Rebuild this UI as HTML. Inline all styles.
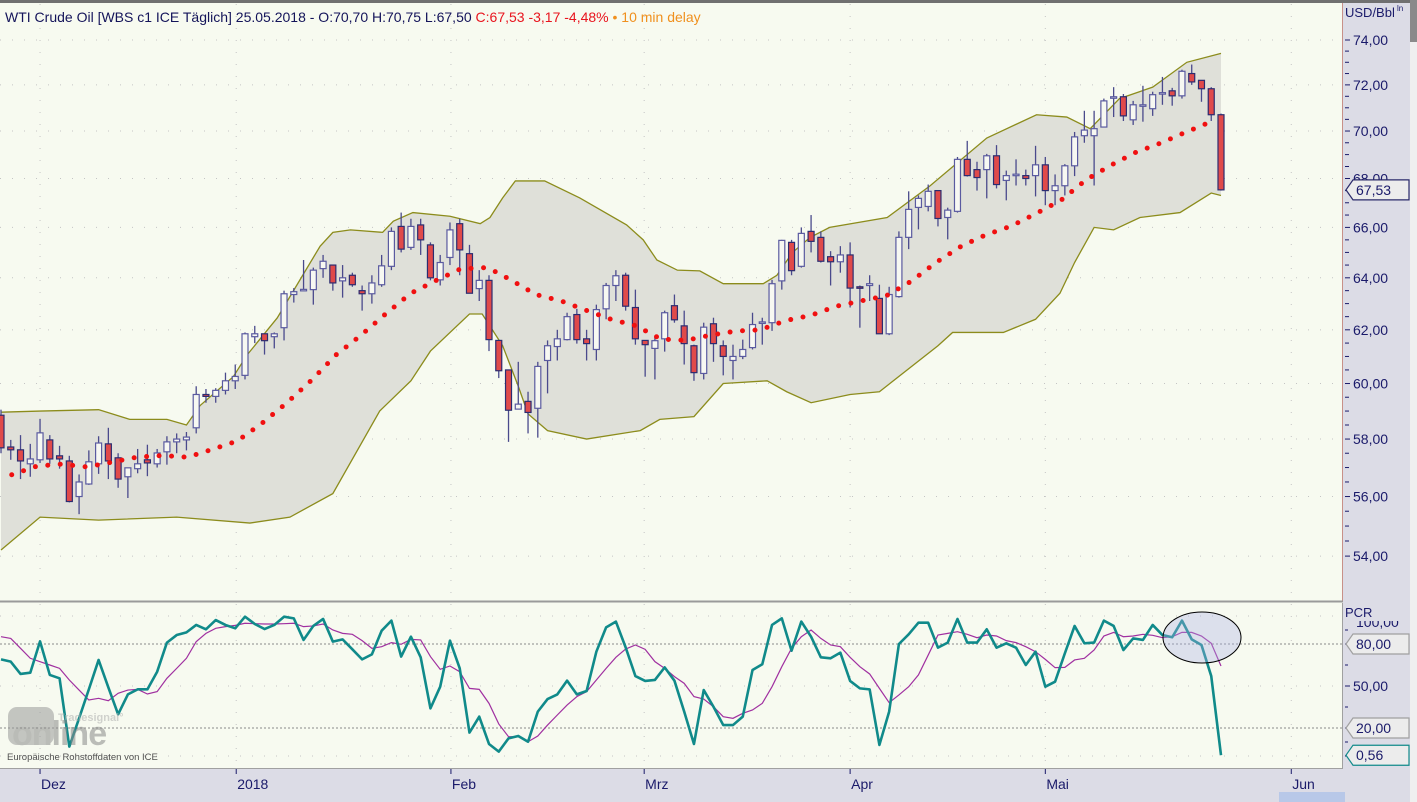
<!DOCTYPE html>
<html><head><meta charset="utf-8"><style>
html,body{margin:0;padding:0;background:#f7faf0;}
svg{display:block;font-family:"Liberation Sans",sans-serif;}
</style></head><body>
<svg id="chart" width="1417" height="802" viewBox="0 0 1417 802" xmlns="http://www.w3.org/2000/svg">
<rect x="0" y="0" width="1417" height="802" fill="#f7faf0"/>
<rect x="1343" y="0" width="67" height="802" fill="#dcdce6"/>
<rect x="0" y="769" width="1343" height="33" fill="#dcdce6"/>
<rect x="1410" y="0" width="7" height="802" fill="#efefef"/>
<rect x="1410" y="0" width="7" height="42" fill="#8a8a8a"/>
<rect x="0" y="0" width="1410" height="3" fill="#707070"/>
<g id="grid"></g>
<g id="bands"></g>
<g id="candles"></g>
<g id="lower"></g>
<g id="axes"></g>
<line x1="1342.5" y1="3" x2="1342.5" y2="601" stroke="#c89088"/>
<line x1="0" y1="601.5" x2="1343" y2="601.5" stroke="#9a9a9a" stroke-width="2"/>
<line x1="1342.5" y1="603" x2="1342.5" y2="768" stroke="#a0a0a0"/>
<line x1="0" y1="768.5" x2="1343" y2="768.5" stroke="#a0a0a0"/>
<text x="5" y="22" font-size="14"><tspan fill="#14145a">WTI Crude Oil [WBS c1 ICE Täglich] 25.05.2018 - O:70,70 H:70,75 L:67,50 </tspan><tspan fill="#e8141e">C:67,53 -3,17 -4,48% </tspan><tspan fill="#f0901e">• 10 min delay</tspan></text>
<g opacity="0.55">
<rect x="8" y="707" width="46" height="38" rx="9" fill="#9a9a9a"/>
<text x="58" y="721" font-size="11" font-weight="bold" fill="#b0b0b0">Tradesignal°</text>
<text x="12" y="745" font-size="34" font-weight="bold" fill="#8a8a8a" letter-spacing="-1">online</text>
</g>
<text x="7" y="760" font-size="9.5" fill="#505050">Europäische Rohstoffdaten von ICE</text>
<ellipse cx="1202" cy="637.5" rx="39" ry="25.5" fill="rgba(170,175,230,0.35)" stroke="#000" stroke-width="1"/>
<rect x="1279" y="792" width="66" height="10" fill="#b8c8e8"/>
</svg>
<script>
// ---- candle data ----
const opens=[58.85,57.72,57.62,57.13,57.27,57.97,57.41,57.23,56.0,56.43,57.13,57.83,57.34,56.68,56.96,57.27,57.13,57.55,57.9,57.97,58.4,59.6,59.53,59.75,60.1,60.3,61.74,61.85,61.74,62.08,63.35,63.5,63.54,64.36,64.5,63.88,64.1,63.5,63.38,63.73,64.45,66.04,65.2,66.1,65.3,63.92,64.8,66.15,64.95,63.58,63.9,61.6,60.5,59.07,59.35,59.1,60.85,61.37,61.63,62.58,61.66,61.26,62.8,63.7,64.1,62.85,61.6,61.3,61.66,62.92,62.15,61.4,60.37,62.23,61.4,60.85,61.0,61.33,62.27,62.27,63.88,65.4,64.45,65.84,65.6,64.83,64.63,64.9,63.65,63.7,63.2,61.85,63.27,65.6,66.81,66.85,67.5,66.4,66.65,68.8,68.37,68.37,68.95,67.92,68.15,68.12,68.12,68.57,67.5,67.7,68.53,69.8,69.8,70.17,71.44,71.48,70.48,71.1,70.96,71.62,71.74,71.52,72.5,72.2,71.83,70.70];
const highs=[59.05,57.97,58.14,57.83,58.72,58.14,57.76,57.41,56.76,57.6,58.1,58.4,57.5,56.99,57.65,57.8,57.65,58.1,58.2,58.25,59.9,59.8,59.83,60.4,60.7,61.9,62.15,61.85,61.9,63.5,63.6,64.7,64.4,64.9,64.5,64.5,64.2,63.7,64.1,64.9,66.0,66.6,66.35,66.35,65.4,64.9,66.2,66.35,65.3,64.3,64.1,61.6,60.5,60.8,59.7,60.8,61.6,62.0,62.65,62.8,62.0,62.96,63.8,64.3,64.2,63.54,61.6,61.74,62.73,63.35,62.73,61.44,62.27,62.46,61.6,61.44,61.63,62.65,62.46,63.92,65.5,65.5,66.0,66.5,65.84,65.05,65.25,65.4,63.7,64.1,63.73,63.65,65.84,67.47,67.3,67.75,67.5,66.8,68.9,69.58,68.7,69.03,69.4,68.33,68.8,68.37,69.37,68.9,68.17,68.6,69.96,70.87,70.87,71.4,71.9,71.6,71.3,71.96,71.7,72.35,71.87,72.67,72.9,72.2,71.9,70.75];
const lows=[57.5,57.27,56.6,56.68,57.16,57.13,56.96,55.8,55.4,56.4,56.78,56.6,56.3,55.95,56.8,56.7,57.0,57.1,57.5,57.6,58.2,59.3,59.3,59.6,59.8,60.15,61.5,61.07,61.3,61.6,63.04,63.5,62.96,64.0,63.5,63.23,63.65,62.73,63.0,63.65,64.3,65.0,65.1,64.9,63.9,63.7,64.5,64.1,63.4,63.1,61.2,60.2,57.9,59.07,58.2,58.05,59.64,60.85,61.6,61.48,60.85,60.85,62.4,63.1,62.73,61.44,60.25,60.15,61.18,62.27,60.7,60.1,60.15,60.8,60.3,60.15,60.9,61.26,61.44,61.96,63.54,64.1,64.4,65.0,64.6,63.7,64.2,62.85,62.08,63.1,61.85,61.8,63.23,65.13,65.92,66.65,66.04,65.52,66.6,68.08,67.5,67.18,67.59,67.1,67.71,67.71,67.26,66.9,66.9,67.3,68.1,69.5,67.71,70.17,70.6,70.43,70.26,70.4,70.65,71.13,71.09,71.4,72.0,71.26,70.43,67.50];
const closes=[57.69,57.62,57.23,57.30,58.22,57.30,57.30,55.83,56.5,57.2,57.86,57.23,56.6,56.99,57.13,57.16,57.51,57.9,58.0,58.07,59.6,59.53,59.75,60.1,60.26,61.85,61.85,61.59,61.85,63.38,63.46,63.55,64.3,64.65,63.8,64.0,63.73,63.38,63.8,64.47,65.84,65.13,66.04,65.5,64.0,64.6,65.9,65.1,63.4,63.9,61.63,60.47,59.03,59.25,58.95,60.63,61.4,61.66,62.5,61.63,61.48,62.77,63.7,64.08,62.9,61.66,61.44,61.59,62.65,62.38,61.48,60.4,62.1,61.48,61.0,61.0,61.26,62.2,62.3,63.77,65.48,64.28,65.76,65.44,64.65,64.63,64.9,63.6,63.6,63.77,61.85,63.35,65.6,66.73,67.18,67.47,66.36,66.7,68.8,68.12,68.04,68.95,67.75,68.12,68.18,68.0,68.57,67.5,67.7,68.53,69.75,70.04,70.1,71.3,71.48,70.65,71.13,71.13,71.57,71.66,71.52,72.6,72.13,71.83,70.7,67.53];
// ---- Bollinger bands (day index, price) ----
const upperDay=[0,4,10,13.2,17,19,20.4,23.8,25.2,28.3,30.6,32.7,34,35.8,39.1,40.2,42.2,46,49.1,50.1,51.4,52.7,55.7,59.3,64.1,65.8,67.2,69.3,71.6,74,78.1,79.5,81.1,82.9,84.9,90.8,95.2,101,106.1,109.2,111.6,114.6,118,121.5,125];
const upperVal=[58.96,59.0,59.05,58.7,58.7,58.5,59.2,60.25,61.05,62.45,63.9,65.25,65.8,65.9,65.8,66.25,66.6,66.45,66.15,66.4,67.2,67.9,67.9,67.2,66.1,65.5,64.7,64.3,64.27,63.77,63.77,64.1,65.0,65.6,66.0,66.4,67.7,69.7,70.7,70.6,70.1,71.4,71.9,73.0,73.4];
const lowerDay=[0,4,10,18,25.5,29.6,34,38.8,42,44,48,49.3,51.4,53,54,56,60,65.5,67.5,71,74,78.5,80.5,83,87,90,96,97.5,102.7,106,108.5,110,112,114,116.7,120.8,124,125];
const lowerVal=[54.2,55.3,55.2,55.3,55.1,55.3,56.1,59.0,60.1,61.2,62.6,62.6,61.4,59.9,58.9,58.3,58.0,58.3,58.7,58.8,60.0,60.1,59.7,59.3,59.6,59.7,61.4,61.9,61.9,62.4,63.4,64.6,66.0,65.9,66.4,66.6,67.4,67.3];
const midDay=[1.1,3.7,6.2,8.8,11.4,13.9,16.5,19.1,21.6,24.2,26.7,29.3,31.9,34.3,36.9,39.4,42,44.6,47.1,49.7,50.9,52.3,54.8,57.4,59.9,62.5,65.1,67.6,70.2,72.7,75.3,77.8,80.4,83,85.6,88.1,90.7,93.2,95.8,98.4,100.9,103.5,106,108.6,111.2,113.7,116.3,118.9,121.4,124];
const midVal=[56.75,57.05,57.12,57.02,57.19,57.36,57.42,57.36,57.63,57.93,58.55,59.3,60.15,61.05,61.8,62.6,63.4,63.9,64.35,64.4,64.2,63.9,63.35,63.1,62.75,62.4,62.15,61.65,61.6,61.8,61.95,62.0,62.35,62.55,62.9,63.1,63.3,63.85,64.6,65.25,65.7,66.05,66.55,67.1,67.95,68.55,69.1,69.5,69.95,70.4];
// ---- PCR indicator ----
const pcr=[69.0,67.4,58.6,59.5,81.9,57.9,55.5,6.7,26.9,47.6,68.6,49.0,29.8,44.0,47.6,47.6,60.2,81.0,86.4,88.3,93.6,90.5,97.1,93.6,91.2,99.5,94.3,90.7,93.6,99.5,98.3,82.9,92.9,97.9,81.7,83.3,76.2,69.0,72.6,89.5,96.7,71.0,85.2,70.5,34.0,49.5,82.4,62.6,16.7,28.1,8.6,3.1,12.6,14.3,10.2,31.7,40.7,44.0,53.8,44.0,46.4,74.5,91.9,96.0,77.6,57.1,53.6,54.3,63.3,53.8,31.7,8.6,47.1,35.2,22.1,22.1,28.1,61.4,65.5,93.6,98.3,75.2,96.0,85.2,70.5,69.8,73.8,53.6,48.3,47.6,7.9,31.7,80.0,86.9,95.2,95.2,77.4,81.0,97.9,81.0,81.0,90.5,77.4,80.5,77.4,65.0,74.5,49.5,53.1,73.3,92.9,80.5,81.0,96.7,92.9,75.7,84.0,82.9,93.6,86.4,84.8,96.7,83.3,79.3,57.1,0.56];
const pcrSignal=[85.2,84.0,76.9,69.8,67.4,65.0,62.6,54.3,47.1,40.0,41.2,39.5,44.8,47.1,47.6,44.3,46.0,55.5,62.6,69.8,81.7,87.6,91.2,92.4,93.3,94.8,94.5,94.3,94.3,94.5,94.8,92.4,92.9,94.3,90.0,87.6,86.9,82.4,76.9,78.1,81.0,79.8,83.3,82.9,71.0,61.9,64.3,60.2,48.3,47.6,37.6,22.9,13.8,13.8,10.2,14.3,22.1,29.3,36.4,42.4,46.0,54.3,62.6,70.5,76.4,79.3,76.2,67.4,62.6,56.7,51.9,42.4,40.7,35.2,28.1,26.9,30.5,32.9,37.6,49.5,63.8,76.9,85.2,90.0,84.0,79.3,78.1,70.5,63.8,58.6,48.3,38.1,43.6,49.5,57.9,72.1,86.4,87.6,88.8,86.9,84.5,86.4,85.7,82.4,81.0,78.1,74.5,69.0,63.1,63.3,68.6,69.8,75.7,85.7,88.3,85.2,85.7,86.9,86.2,84.5,85.2,88.3,88.3,85.7,80.5,64.3];
// ---- axis labels ----
const priceTicks=[54,56,58,60,62,64,66,68,70,72,74];
const pcrTicks=[0,20,50,80,100];
const monthLabels=["Dez","2018","Feb","Mrz","Apr","Mai","Jun"];
const monthDays=[4.0,24.1,46.1,65.9,87.0,107.0,132.2];
const lastPrice=67.53;
const lastPcr=0.56;

const NS="http://www.w3.org/2000/svg";
const LN74=Math.log(74);
function xDay(i){return 1+i*9.76;}
function yPrice(v){return 40+1638*(LN74-Math.log(v));}
function yPcr(v){return 756-1.4*v;}
function mk(tag,attrs,parent){const e=document.createElementNS(NS,tag);for(const k in attrs)e.setAttribute(k,attrs[k]);parent.appendChild(e);return e;}
const grid=document.getElementById('grid');
const axes=document.getElementById('axes');
const bands=document.getElementById('bands');
const cg=document.getElementById('candles');
const lower=document.getElementById('lower');

priceTicks.forEach(v=>{const y=yPrice(v);
 const l=mk('line',{x1:0,x2:1342,y1:y,y2:y,stroke:'#c4c4c4','stroke-dasharray':'1 11'},grid);
 
 
});
monthDays.forEach(d=>{const x=xDay(d);
 const l=mk('line',{x1:x,x2:x,y1:4,y2:768,stroke:'#c4c4c4','stroke-dasharray':'1 11'},grid);
 
 
});
pcrTicks.forEach(v=>{const y=yPcr(v);const strong=(v===20||v===80);
 const l=mk('line',{x1:0,x2:1342,y1:y,y2:y,stroke:strong?'#8a8a8a':'#c4c4c4','stroke-dasharray':strong?'2 2':'1 11'},grid);
 
 
});

let pts=[];
upperDay.forEach((d,k)=>pts.push(xDay(d)+','+yPrice(upperVal[k])));
for(let k=lowerDay.length-1;k>=0;k--)pts.push(xDay(lowerDay[k])+','+yPrice(lowerVal[k]));
const area=mk('polygon',{points:pts.join(' '),fill:'#dfe0d9',stroke:'none'},bands);


const up=mk('polyline',{points:upperDay.map((d,k)=>xDay(d)+','+yPrice(upperVal[k])).join(' '),fill:'none',stroke:'#8c8c1c','stroke-width':1.3},bands);


const lo=mk('polyline',{points:lowerDay.map((d,k)=>xDay(d)+','+yPrice(lowerVal[k])).join(' '),fill:'none',stroke:'#8c8c1c','stroke-width':1.3},bands);



closes.forEach((c,i)=>{
 const o=opens[i],x=xDay(i),down=c<o;
 const w=mk('line',{x1:x,x2:x,y1:yPrice(highs[i]),y2:yPrice(lows[i]),stroke:'#4a4a8c','stroke-width':1.3},cg);
 
 
 const top=yPrice(Math.max(o,c)),bot=yPrice(Math.min(o,c));
 const b=mk('rect',{x:x-3,y:top,width:6,height:Math.max(1.5,bot-top),fill:down?'#e04a4a':'#f7f8f2',stroke:down?'#2c2c70':'#5a5aa0','stroke-width':1.2},cg);
 
 
});

const mid=mk('polyline',{points:midDay.map((d,k)=>xDay(d)+','+yPrice(midVal[k])).join(' '),fill:'none',stroke:'#f01010','stroke-width':5,'stroke-linecap':'round','stroke-dasharray':'0 12.5'},cg);



const sig=mk('polyline',{points:pcrSignal.map((v,i)=>xDay(i)+','+yPcr(v)).join(' '),fill:'none',stroke:'#a030a0','stroke-width':1.2},lower);


const pl=mk('polyline',{points:pcr.map((v,i)=>xDay(i)+','+yPcr(v)).join(' '),fill:'none',stroke:'#108a8a','stroke-width':2.6,'stroke-linejoin':'round'},lower);



for(let k=0;k<priceTicks.length-1;k++){
 const a=priceTicks[k],b=priceTicks[k+1];
 for(let m=1;m<4;m++){const y=yPrice(a+(b-a)*m/4);
  const t=mk('line',{x1:1345,x2:1349,y1:y,y2:y,stroke:'#1a1a6a'},axes);
  
  
 }
}
priceTicks.forEach(v=>{const y=yPrice(v);
 const t=mk('line',{x1:1345,x2:1350,y1:y,y2:y,stroke:'#1a1a6a'},axes);
 
 
 const tx=mk('text',{x:1353,y:y+5,'font-size':14,fill:'#1a1a6a'},axes);
 tx.textContent=v.toFixed(2).replace('.',',');
 
 
});
const unit=mk('text',{x:1345,y:17,'font-size':13,fill:'#1a1a6a'},axes);
unit.textContent='USD/Bbl';


const ln=mk('text',{x:1397,y:11,'font-size':8,fill:'#1a1a6a'},axes);
ln.textContent='ln';



function valueBox(y,label,stroke,name){
 const g=mk('g',{},axes);
 
 
 mk('polygon',{points:`1346,${y} 1353,${y-10} 1409,${y-10} 1409,${y+10} 1353,${y+10}`,fill:'#ececec',stroke:stroke,'stroke-width':1.2},g);
 const t=mk('text',{x:1356,y:y+5,'font-size':14,fill:'#1a1a6a'},g);
 t.textContent=label;
}
valueBox(yPrice(lastPrice),lastPrice.toFixed(2).replace('.',','),'#2a2a6a','last-price-label');

pcrTicks.forEach(v=>{const y=yPcr(v);
 const t=mk('line',{x1:1345,x2:1350,y1:y,y2:y,stroke:'#1a1a6a'},axes);
 
 
});
[10,35,65,90].forEach(v=>{const y=yPcr(v);
 const t=mk('line',{x1:1345,x2:1348,y1:y,y2:y,stroke:'#1a1a6a'},axes);
 
 
});
const p100=mk('text',{x:1356,y:yPcr(100)+11,'font-size':14,fill:'#1a1a6a'},axes);
p100.textContent='100,00';


const cover=mk('rect',{x:1344,y:603,width:65,height:18,fill:'#dcdce6'},axes);


const pcrT=mk('text',{x:1345,y:617,'font-size':13,fill:'#1a1a6a'},axes);
pcrT.textContent='PCR';


const p50=mk('text',{x:1353,y:yPcr(50)+5,'font-size':14,fill:'#1a1a6a'},axes);
p50.textContent='50,00';


valueBox(yPcr(80),'80,00','#a0a0a0','pcr-80-label');
valueBox(yPcr(20),'20,00','#a0a0a0','pcr-20-label');
valueBox(yPcr(lastPcr),lastPcr.toFixed(2).replace('.',','),'#108a8a','last-pcr-label');

monthLabels.forEach((m,k)=>{const x=xDay(monthDays[k]);
 const t=mk('line',{x1:x,x2:x,y1:769,y2:774,stroke:'#1a1a6a'},axes);
 
 
 const tx=mk('text',{x:x+1,y:789,'font-size':14,fill:'#1a1a6a'},axes);
 tx.textContent=m;
 
 
});
</script>
</body></html>
